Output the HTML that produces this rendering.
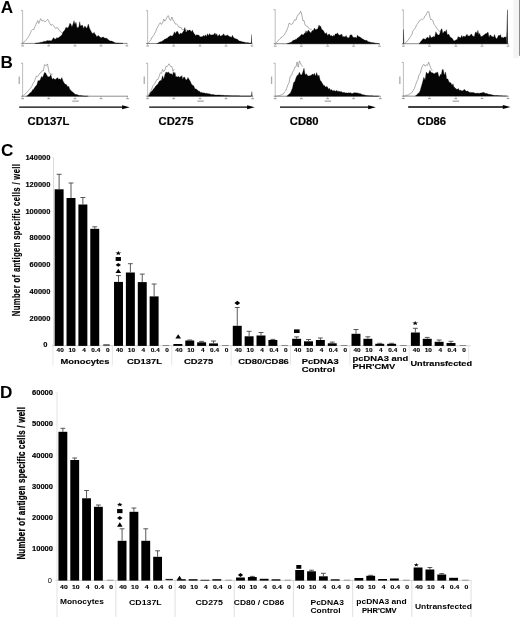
<!DOCTYPE html>
<html><head><meta charset="utf-8"><title>Figure</title>
<style>
html,body{margin:0;padding:0;background:#fff;}
body{width:520px;height:617px;overflow:hidden;font-family:"Liberation Sans",sans-serif;}
svg{display:block;filter:blur(0.5px);}
</style></head><body>
<svg width="520" height="617" viewBox="0 0 520 617" font-family="'Liberation Sans', sans-serif">
<rect width="520" height="617" fill="#fff"/>
<g transform="translate(-0.5,0.2)">
<path d="M23.10,10.40 L23.10,43.20" stroke="#9a9a9a" stroke-width="0.65" fill="none"/>
<path d="M21.60,43.20 L127.90,43.20" stroke="#5c5c5c" stroke-width="0.7" fill="none"/>
<path d="M21.50,10.40 L23.10,10.40" stroke="#888" stroke-width="0.7"/>
<path d="M23.10,43.20 L23.10,44.50" stroke="#777" stroke-width="0.6"/>
<rect x="21.80" y="45.10" width="2.6" height="1.1" fill="#9a9a9a"/>
<path d="M49.20,43.20 L49.20,44.50" stroke="#777" stroke-width="0.6"/>
<rect x="47.90" y="45.10" width="2.6" height="1.1" fill="#9a9a9a"/>
<path d="M75.50,43.20 L75.50,44.50" stroke="#777" stroke-width="0.6"/>
<rect x="74.20" y="45.10" width="2.6" height="1.1" fill="#9a9a9a"/>
<path d="M101.50,43.20 L101.50,44.50" stroke="#777" stroke-width="0.6"/>
<rect x="100.20" y="45.10" width="2.6" height="1.1" fill="#9a9a9a"/>
<path d="M127.40,43.20 L127.40,44.50" stroke="#777" stroke-width="0.6"/>
<rect x="126.10" y="45.10" width="2.6" height="1.1" fill="#9a9a9a"/>
<path d="M23.20,42.70 L24.65,41.56 L26.10,40.30 L27.55,38.59 L29.00,36.52 L30.40,33.91 L31.80,30.48 L33.00,29.32 L34.20,29.62 L35.35,26.53 L36.50,24.12 L38.20,20.42 L39.30,23.31 L41.10,18.44 L42.50,20.67 L44.00,20.07 L45.50,21.79 L46.80,20.53 L48.20,19.13 L49.70,22.14 L51.50,25.17 L52.60,24.15 L54.30,25.73 L56.10,28.25 L57.80,27.16 L59.50,29.84 L61.30,31.78 L63.00,32.81 L64.20,31.74 L66.00,29.15" fill="none" stroke="#7a7a7a" stroke-width="0.62" stroke-linejoin="round"/>
<path d="M35.30,43.20 L35.30,43.20 L36.27,43.05 L37.23,42.90 L38.20,42.75 L39.17,42.47 L40.13,42.45 L41.10,42.10 L42.23,41.96 L43.37,41.68 L44.50,40.98 L45.52,41.20 L46.55,40.97 L47.58,40.38 L48.60,40.43 L49.57,40.53 L50.53,40.21 L51.50,40.90 L52.43,40.05 L53.37,38.42 L54.30,37.50 L55.32,38.95 L56.35,38.74 L57.38,37.33 L58.40,37.96 L59.37,37.39 L60.33,36.31 L61.30,35.79 L62.45,34.59 L63.60,31.85 L65.30,30.05 L66.45,27.14 L67.60,27.70 L68.53,27.55 L69.47,25.82 L70.40,22.99 L71.43,24.15 L72.45,26.86 L73.47,24.07 L74.50,20.54 L75.50,24.27 L76.50,22.08 L77.50,27.62 L78.50,27.32 L79.35,26.71 L80.20,21.47 L81.05,25.82 L81.90,25.36 L83.05,24.98 L84.20,28.59 L85.08,26.03 L85.95,26.42 L86.83,28.08 L87.70,27.41 L88.85,23.87 L90.00,28.03 L91.15,30.37 L92.30,32.49 L93.45,33.43 L94.60,32.13 L95.47,33.80 L96.35,34.87 L97.22,36.57 L98.10,35.82 L98.95,35.24 L99.80,36.33 L100.65,36.75 L101.50,37.81 L102.65,37.03 L103.80,36.86 L105.00,37.81 L106.20,38.06 L107.33,37.97 L108.47,39.22 L109.60,39.99 L110.47,40.75 L111.35,40.85 L112.22,40.90 L113.10,41.31 L113.95,41.57 L114.80,42.19 L115.65,42.44 L116.50,42.70 L117.38,42.76 L118.25,42.83 L119.12,42.89 L120.00,42.95 L120.88,43.01 L121.75,43.08 L122.62,43.14 L123.50,43.20 L123.50,43.20 Z" fill="#050505" stroke="#050505" stroke-width="0.3" stroke-linejoin="round"/>
</g>
<g transform="translate(-0.5,0.3)">
<path d="M148.10,10.40 L148.10,43.20" stroke="#9a9a9a" stroke-width="0.65" fill="none"/>
<path d="M146.60,43.20 L252.90,43.20" stroke="#5c5c5c" stroke-width="0.7" fill="none"/>
<path d="M146.50,10.40 L148.10,10.40" stroke="#888" stroke-width="0.7"/>
<path d="M148.10,43.20 L148.10,44.50" stroke="#777" stroke-width="0.6"/>
<rect x="146.80" y="45.10" width="2.6" height="1.1" fill="#9a9a9a"/>
<path d="M174.20,43.20 L174.20,44.50" stroke="#777" stroke-width="0.6"/>
<rect x="172.90" y="45.10" width="2.6" height="1.1" fill="#9a9a9a"/>
<path d="M200.50,43.20 L200.50,44.50" stroke="#777" stroke-width="0.6"/>
<rect x="199.20" y="45.10" width="2.6" height="1.1" fill="#9a9a9a"/>
<path d="M226.50,43.20 L226.50,44.50" stroke="#777" stroke-width="0.6"/>
<rect x="225.20" y="45.10" width="2.6" height="1.1" fill="#9a9a9a"/>
<path d="M252.40,43.20 L252.40,44.50" stroke="#777" stroke-width="0.6"/>
<rect x="251.10" y="45.10" width="2.6" height="1.1" fill="#9a9a9a"/>
<path d="M148.80,42.70 L150.15,41.08 L151.50,39.28 L152.90,36.39 L154.30,35.16 L155.30,32.84 L156.30,31.10 L157.30,28.33 L158.47,25.98 L159.63,24.10 L160.80,22.30 L161.93,24.18 L163.07,22.73 L164.20,18.70 L165.35,20.89 L166.50,19.04 L167.65,16.36 L168.80,15.28 L170.00,18.89 L171.20,20.16 L172.35,16.67 L173.50,20.10 L174.65,21.03 L175.80,23.79 L176.95,23.53 L178.10,24.74 L179.25,26.86 L180.40,27.05 L181.55,26.88 L182.70,29.57 L183.85,29.40 L185.00,28.57 L186.00,30.71 L187.00,28.88" fill="none" stroke="#7a7a7a" stroke-width="0.62" stroke-linejoin="round"/>
<path d="M157.30,43.20 L157.30,43.20 L158.22,42.82 L159.14,42.47 L160.06,41.78 L160.98,41.47 L161.90,41.33 L162.78,40.80 L163.65,40.21 L164.53,39.40 L165.40,38.80 L166.25,38.69 L167.10,37.85 L167.95,37.84 L168.80,36.74 L169.68,36.09 L170.55,35.75 L171.43,35.20 L172.30,36.04 L173.18,35.57 L174.05,33.85 L174.93,31.43 L175.80,33.55 L176.93,31.38 L178.07,30.98 L179.20,33.38 L180.07,34.21 L180.95,32.73 L181.82,33.35 L182.70,32.97 L183.57,31.29 L184.45,30.76 L185.32,27.24 L186.20,31.38 L187.05,31.77 L187.90,29.63 L188.75,30.53 L189.60,29.80 L190.75,30.07 L191.90,31.66 L192.78,29.72 L193.65,31.74 L194.53,33.29 L195.40,34.26 L196.25,35.33 L197.10,34.39 L197.95,34.63 L198.80,34.82 L199.68,35.14 L200.55,36.75 L201.43,36.36 L202.30,36.47 L203.18,36.20 L204.05,35.08 L204.93,36.30 L205.80,34.49 L206.93,36.32 L208.07,33.34 L209.20,35.55 L210.12,33.26 L211.04,34.61 L211.96,34.71 L212.88,34.52 L213.80,34.67 L214.68,33.43 L215.55,32.61 L216.43,34.97 L217.30,33.37 L218.18,36.09 L219.05,35.18 L219.93,34.07 L220.80,35.98 L221.93,35.53 L223.07,34.94 L224.20,33.36 L225.07,35.32 L225.95,35.49 L226.82,35.35 L227.70,34.46 L228.57,35.41 L229.45,35.76 L230.32,36.77 L231.20,36.39 L232.05,37.12 L232.90,35.07 L233.75,36.79 L234.60,37.95 L235.47,37.84 L236.35,38.61 L237.22,38.75 L238.10,39.16 L238.95,39.89 L239.80,40.67 L240.65,40.76 L241.50,41.27 L242.44,41.19 L243.38,41.78 L244.32,41.79 L245.26,41.86 L246.20,42.29 L247.12,42.36 L248.04,42.28 L248.96,42.52 L249.88,42.62 L250.80,42.70 L251.60,42.53 L251.60,43.20 Z" fill="#050505" stroke="#050505" stroke-width="0.3" stroke-linejoin="round"/>
<path d="M251.5,43.2 L251.9,34.2 L252.3,34.2 L252.6,43.2 Z" fill="#333"/>
</g>
<g transform="translate(-0.2,0.5)">
<path d="M275.40,9.20 L275.40,43.20" stroke="#9a9a9a" stroke-width="0.65" fill="none"/>
<path d="M273.90,43.20 L380.20,43.20" stroke="#5c5c5c" stroke-width="0.7" fill="none"/>
<path d="M273.80,9.20 L275.40,9.20" stroke="#888" stroke-width="0.7"/>
<path d="M275.40,43.20 L275.40,44.50" stroke="#777" stroke-width="0.6"/>
<rect x="274.10" y="45.10" width="2.6" height="1.1" fill="#9a9a9a"/>
<path d="M301.50,43.20 L301.50,44.50" stroke="#777" stroke-width="0.6"/>
<rect x="300.20" y="45.10" width="2.6" height="1.1" fill="#9a9a9a"/>
<path d="M327.80,43.20 L327.80,44.50" stroke="#777" stroke-width="0.6"/>
<rect x="326.50" y="45.10" width="2.6" height="1.1" fill="#9a9a9a"/>
<path d="M353.80,43.20 L353.80,44.50" stroke="#777" stroke-width="0.6"/>
<rect x="352.50" y="45.10" width="2.6" height="1.1" fill="#9a9a9a"/>
<path d="M379.70,43.20 L379.70,44.50" stroke="#777" stroke-width="0.6"/>
<rect x="378.40" y="45.10" width="2.6" height="1.1" fill="#9a9a9a"/>
<path d="M276.10,42.70 L277.45,41.32 L278.80,39.64 L279.97,38.30 L281.13,37.16 L282.30,36.63 L283.47,35.22 L284.63,34.18 L285.80,32.24 L286.95,29.59 L288.10,27.20 L289.20,22.78 L290.35,23.40 L291.50,23.91 L292.65,23.32 L293.80,21.08 L295.00,19.14 L296.20,19.74 L297.30,16.06 L298.45,13.95 L299.60,13.50 L300.80,10.68 L301.90,13.51 L303.05,20.02 L304.20,19.97 L305.35,24.65 L306.50,25.50 L307.65,25.67 L308.80,27.74 L310.70,28.93 L312.00,28.71" fill="none" stroke="#7a7a7a" stroke-width="0.62" stroke-linejoin="round"/>
<path d="M286.90,43.20 L286.90,43.20 L287.82,42.90 L288.74,42.57 L289.66,42.34 L290.58,42.01 L291.50,41.77 L292.38,40.72 L293.25,40.03 L294.12,39.50 L295.00,39.44 L295.88,38.70 L296.75,38.65 L297.62,37.62 L298.50,37.01 L299.63,36.15 L300.77,35.10 L301.90,33.72 L302.77,34.30 L303.65,34.51 L304.52,32.77 L305.40,32.72 L306.25,30.21 L307.10,32.46 L307.95,30.25 L308.80,29.84 L309.68,30.95 L310.55,32.32 L311.43,31.89 L312.30,30.12 L313.45,30.29 L314.60,27.62 L315.75,29.16 L316.90,28.71 L318.05,28.14 L319.20,24.45 L320.07,26.05 L320.95,25.78 L321.82,28.83 L322.70,29.29 L323.85,30.60 L325.00,32.80 L325.88,33.22 L326.75,32.15 L327.62,34.88 L328.50,34.03 L329.63,33.55 L330.77,35.42 L331.90,35.11 L332.77,35.95 L333.65,34.71 L334.52,35.66 L335.40,33.46 L336.55,33.45 L337.70,32.39 L338.57,33.63 L339.45,34.90 L340.32,34.31 L341.20,34.57 L342.05,33.41 L342.90,36.42 L343.75,35.95 L344.60,36.36 L345.48,36.14 L346.35,34.91 L347.23,37.30 L348.10,37.09 L349.23,37.45 L350.37,34.48 L351.50,34.37 L352.38,34.92 L353.25,37.10 L354.12,36.84 L355.00,37.07 L355.88,36.83 L356.75,37.63 L357.62,34.61 L358.50,36.10 L359.63,36.29 L360.77,36.93 L361.90,37.75 L362.77,38.55 L363.65,38.75 L364.52,39.41 L365.40,39.79 L366.25,40.12 L367.10,39.77 L367.95,41.10 L368.80,41.29 L369.74,41.57 L370.68,41.65 L371.62,41.90 L372.56,42.11 L373.50,42.29 L374.45,42.27 L375.40,42.66 L376.35,42.75 L377.30,42.90 L378.25,43.05 L379.20,43.20 L379.20,43.20 Z" fill="#050505" stroke="#050505" stroke-width="0.3" stroke-linejoin="round"/>
</g>
<g transform="translate(0.0,0.4)">
<path d="M403.40,9.60 L403.40,43.30" stroke="#9a9a9a" stroke-width="0.65" fill="none"/>
<path d="M401.90,43.30 L508.50,43.30" stroke="#5c5c5c" stroke-width="0.7" fill="none"/>
<path d="M401.80,9.60 L403.40,9.60" stroke="#888" stroke-width="0.7"/>
<path d="M403.40,43.30 L403.40,44.60" stroke="#777" stroke-width="0.6"/>
<rect x="402.10" y="45.20" width="2.6" height="1.1" fill="#9a9a9a"/>
<path d="M429.40,43.30 L429.40,44.60" stroke="#777" stroke-width="0.6"/>
<rect x="428.10" y="45.20" width="2.6" height="1.1" fill="#9a9a9a"/>
<path d="M455.80,43.30 L455.80,44.60" stroke="#777" stroke-width="0.6"/>
<rect x="454.50" y="45.20" width="2.6" height="1.1" fill="#9a9a9a"/>
<path d="M482.00,43.30 L482.00,44.60" stroke="#777" stroke-width="0.6"/>
<rect x="480.70" y="45.20" width="2.6" height="1.1" fill="#9a9a9a"/>
<path d="M508.00,43.30 L508.00,44.60" stroke="#777" stroke-width="0.6"/>
<rect x="506.70" y="45.20" width="2.6" height="1.1" fill="#9a9a9a"/>
<path d="M403.2,43.3 L403.4,29 L403.9,29 L404.2,43.3 Z" fill="#222"/>
<path d="M404.60,43.30 L405.80,41.98 L407.00,40.84 L408.20,39.86 L409.40,37.65 L410.60,36.16 L411.80,34.31 L413.00,30.37 L414.20,28.91 L415.40,27.50 L416.60,24.36 L417.80,23.23 L419.00,20.79 L420.20,19.88 L421.40,18.76 L422.60,19.32 L423.80,18.08 L424.80,15.67 L425.80,14.99 L427.50,11.28 L428.70,11.24 L430.60,19.18 L431.80,19.08 L433.00,20.61 L434.20,24.41 L435.40,25.59 L436.60,27.56 L437.80,29.10 L439.50,31.07 L441.00,31.74" fill="none" stroke="#7a7a7a" stroke-width="0.62" stroke-linejoin="round"/>
<path d="M419.00,43.30 L419.00,43.30 L419.90,42.41 L420.80,41.03 L421.70,40.03 L422.60,38.89 L423.53,38.18 L424.45,38.57 L425.38,39.15 L426.30,37.93 L427.20,36.91 L428.10,37.10 L429.00,38.09 L429.90,34.48 L430.80,36.85 L431.70,37.37 L432.60,36.64 L433.50,36.07 L434.70,36.49 L435.90,31.33 L437.10,33.84 L438.30,34.71 L439.20,34.49 L440.10,32.40 L441.00,29.06 L441.90,28.39 L442.80,33.08 L443.70,31.87 L444.60,30.51 L445.50,31.54 L446.40,29.21 L447.30,34.63 L448.20,33.71 L449.10,34.33 L450.30,36.84 L451.50,37.28 L452.70,38.60 L453.90,40.70 L455.10,40.06 L456.30,39.38 L457.20,39.22 L458.10,36.02 L459.00,37.10 L459.90,36.83 L460.80,37.59 L461.70,34.94 L462.60,37.16 L463.50,35.67 L464.40,36.13 L465.30,36.41 L466.20,34.83 L467.10,33.75 L468.00,35.90 L468.90,35.37 L469.80,35.69 L470.70,34.20 L471.60,33.61 L472.50,35.67 L473.40,35.88 L474.30,36.30 L475.20,32.25 L476.10,31.36 L477.00,33.46 L477.90,29.95 L478.80,34.46 L479.70,32.93 L480.60,35.81 L481.50,36.00 L482.46,35.73 L483.42,34.94 L484.38,34.44 L485.34,33.26 L486.30,33.44 L487.23,32.22 L488.15,32.04 L489.07,37.14 L490.00,34.64 L490.90,34.85 L491.80,36.14 L492.70,36.41 L493.60,36.74 L494.50,34.09 L495.40,36.82 L496.30,38.29 L497.20,37.89 L498.40,35.15 L499.60,35.12 L500.50,34.21 L501.40,37.37 L502.30,36.79 L503.20,37.67 L504.17,36.72 L505.13,36.89 L506.10,36.43 L506.10,43.30 Z" fill="#050505" stroke="#050505" stroke-width="0.3" stroke-linejoin="round"/>
<path d="M506.0,43.3 L506.7,30 L507.05,9.3 L507.6,9.3 L507.9,43.3 Z" fill="#181818"/>
</g>
<rect x="518.9" y="0" width="1.1" height="55.8" fill="#8c8c8c"/>
<rect x="513.4" y="0" width="5.5" height="58" fill="#f4f4f4"/>
<g transform="translate(-0.5,0.1)">
<path d="M23.10,63.10 L23.10,96.10" stroke="#9a9a9a" stroke-width="0.65" fill="none"/>
<path d="M21.60,96.10 L128.50,96.10" stroke="#5c5c5c" stroke-width="0.7" fill="none"/>
<path d="M21.50,63.10 L23.10,63.10" stroke="#888" stroke-width="0.7"/>
<path d="M23.10,96.10 L23.10,97.40" stroke="#777" stroke-width="0.6"/>
<rect x="21.80" y="98.00" width="2.6" height="1.1" fill="#9a9a9a"/>
<path d="M49.20,96.10 L49.20,97.40" stroke="#777" stroke-width="0.6"/>
<rect x="47.90" y="98.00" width="2.6" height="1.1" fill="#9a9a9a"/>
<path d="M75.50,96.10 L75.50,97.40" stroke="#777" stroke-width="0.6"/>
<rect x="74.20" y="98.00" width="2.6" height="1.1" fill="#9a9a9a"/>
<path d="M101.50,96.10 L101.50,97.40" stroke="#777" stroke-width="0.6"/>
<rect x="100.20" y="98.00" width="2.6" height="1.1" fill="#9a9a9a"/>
<path d="M128.00,96.10 L128.00,97.40" stroke="#777" stroke-width="0.6"/>
<rect x="126.70" y="98.00" width="2.6" height="1.1" fill="#9a9a9a"/>
<path d="M23.80,95.42 L25.15,94.28 L26.50,93.18 L27.67,91.89 L28.83,90.63 L30.00,89.08 L31.17,87.76 L32.33,86.17 L33.50,83.56 L34.65,81.71 L35.80,79.19 L36.95,75.89 L38.10,76.53 L39.25,74.81 L40.40,72.99 L41.55,72.47 L42.70,70.55 L43.85,70.77 L45.00,64.50 L46.80,65.66 L48.00,63.83 L49.60,72.51 L51.50,73.98 L53.10,74.01" fill="none" stroke="#7a7a7a" stroke-width="0.62" stroke-linejoin="round"/>
<path d="M27.00,96.10 L27.00,96.10 L27.88,95.41 L28.75,94.63 L29.62,93.83 L30.50,92.70 L31.38,92.35 L32.25,91.51 L33.12,89.58 L34.00,89.29 L35.13,87.47 L36.27,85.96 L37.40,84.71 L38.55,80.46 L39.70,80.97 L40.85,79.29 L42.00,76.37 L42.90,77.49 L43.80,75.58 L45.00,72.39 L46.20,72.79 L47.33,75.22 L48.47,76.54 L49.60,76.82 L50.48,76.17 L51.35,74.32 L52.23,78.00 L53.10,79.16 L54.23,78.25 L55.37,79.43 L56.50,79.15 L57.38,77.96 L58.25,77.61 L59.12,79.50 L60.00,78.75 L61.15,79.77 L62.30,77.52 L63.45,80.71 L64.60,82.91 L65.75,84.04 L66.90,84.44 L68.05,86.64 L69.20,86.15 L70.35,89.34 L71.50,90.38 L72.65,91.67 L73.80,92.41 L75.00,93.66 L76.20,94.29 L77.33,94.48 L78.47,94.82 L79.60,95.36 L80.52,95.42 L81.44,95.50 L82.36,95.60 L83.28,95.70 L84.20,95.80 L85.12,95.86 L86.04,95.92 L86.96,95.98 L87.88,96.04 L88.80,96.10 L88.80,96.10 Z" fill="#050505" stroke="#050505" stroke-width="0.3" stroke-linejoin="round"/>
</g>
<g transform="translate(-0.5,0.1)">
<path d="M148.10,63.10 L148.10,96.10" stroke="#9a9a9a" stroke-width="0.65" fill="none"/>
<path d="M146.60,96.10 L253.60,96.10" stroke="#5c5c5c" stroke-width="0.7" fill="none"/>
<path d="M146.50,63.10 L148.10,63.10" stroke="#888" stroke-width="0.7"/>
<path d="M148.10,96.10 L148.10,97.40" stroke="#777" stroke-width="0.6"/>
<rect x="146.80" y="98.00" width="2.6" height="1.1" fill="#9a9a9a"/>
<path d="M174.20,96.10 L174.20,97.40" stroke="#777" stroke-width="0.6"/>
<rect x="172.90" y="98.00" width="2.6" height="1.1" fill="#9a9a9a"/>
<path d="M200.50,96.10 L200.50,97.40" stroke="#777" stroke-width="0.6"/>
<rect x="199.20" y="98.00" width="2.6" height="1.1" fill="#9a9a9a"/>
<path d="M226.50,96.10 L226.50,97.40" stroke="#777" stroke-width="0.6"/>
<rect x="225.20" y="98.00" width="2.6" height="1.1" fill="#9a9a9a"/>
<path d="M253.10,96.10 L253.10,97.40" stroke="#777" stroke-width="0.6"/>
<rect x="251.80" y="98.00" width="2.6" height="1.1" fill="#9a9a9a"/>
<path d="M148.80,95.44 L149.95,93.25 L151.10,91.11 L152.25,88.94 L153.40,85.43 L154.80,84.32 L156.20,81.65 L157.35,79.41 L158.50,79.33 L159.65,76.18 L160.80,72.74 L161.95,73.15 L163.10,69.26 L164.25,71.49 L165.40,69.78 L166.55,66.21 L167.70,66.47 L169.50,63.64 L171.20,66.46 L172.35,66.34 L173.50,71.34 L174.60,69.13" fill="none" stroke="#7a7a7a" stroke-width="0.62" stroke-linejoin="round"/>
<path d="M148.80,96.10 L148.80,96.10 L149.70,94.83 L150.60,93.17 L151.50,91.65 L152.38,91.26 L153.25,90.00 L154.12,88.67 L155.00,87.85 L156.15,85.95 L157.30,84.88 L158.45,83.99 L159.60,81.35 L160.75,80.52 L161.90,80.49 L163.05,75.66 L164.20,79.12 L165.35,74.56 L166.50,71.89 L167.65,72.69 L168.80,71.93 L170.00,73.09 L171.20,73.80 L172.05,73.73 L172.90,75.29 L173.75,71.97 L174.60,73.67 L175.47,72.19 L176.35,76.93 L177.22,76.31 L178.10,76.85 L178.95,76.25 L179.80,77.29 L180.65,76.38 L181.50,77.00 L182.38,75.41 L183.25,79.52 L184.12,77.17 L185.00,76.94 L186.15,79.33 L187.30,79.78 L188.45,77.45 L189.60,79.47 L190.75,81.12 L191.90,83.88 L193.05,85.17 L194.20,85.64 L195.35,88.63 L196.50,88.89 L197.38,89.28 L198.25,90.16 L199.12,91.18 L200.00,91.03 L200.88,92.31 L201.75,92.14 L202.62,92.56 L203.50,92.61 L204.35,92.92 L205.20,92.79 L206.05,93.31 L206.90,93.20 L207.82,93.38 L208.74,93.72 L209.66,93.64 L210.58,93.88 L211.50,94.40 L212.44,94.49 L213.38,94.52 L214.32,94.52 L215.26,94.81 L216.20,94.94 L217.06,94.92 L217.92,94.95 L218.79,94.98 L219.65,94.93 L220.51,94.95 L221.38,95.04 L222.24,95.09 L223.10,95.25 L224.02,95.22 L224.94,95.29 L225.86,95.39 L226.78,95.42 L227.70,95.40 L228.62,95.47 L229.54,95.54 L230.46,95.52 L231.38,95.56 L232.30,95.60 L233.22,95.62 L234.14,95.64 L235.06,95.66 L235.98,95.68 L236.90,95.70 L237.82,95.72 L238.74,95.74 L239.66,95.76 L240.58,95.78 L241.50,95.80 L242.43,95.80 L243.36,95.80 L244.29,95.80 L245.22,95.80 L246.15,95.80 L247.08,95.80 L248.01,95.80 L248.94,95.80 L249.87,95.80 L250.80,95.80 L251.50,95.80 L251.50,96.10 Z" fill="#050505" stroke="#050505" stroke-width="0.3" stroke-linejoin="round"/>
<path d="M251.7,96.1 L252.1,91.5 L252.6,91.5 L252.9,96.1 Z" fill="#222"/>
</g>
<g transform="translate(-0.2,0.1)">
<path d="M275.40,63.10 L275.40,96.10" stroke="#9a9a9a" stroke-width="0.65" fill="none"/>
<path d="M273.90,96.10 L380.90,96.10" stroke="#5c5c5c" stroke-width="0.7" fill="none"/>
<path d="M273.80,63.10 L275.40,63.10" stroke="#888" stroke-width="0.7"/>
<path d="M275.40,96.10 L275.40,97.40" stroke="#777" stroke-width="0.6"/>
<rect x="274.10" y="98.00" width="2.6" height="1.1" fill="#9a9a9a"/>
<path d="M301.50,96.10 L301.50,97.40" stroke="#777" stroke-width="0.6"/>
<rect x="300.20" y="98.00" width="2.6" height="1.1" fill="#9a9a9a"/>
<path d="M327.80,96.10 L327.80,97.40" stroke="#777" stroke-width="0.6"/>
<rect x="326.50" y="98.00" width="2.6" height="1.1" fill="#9a9a9a"/>
<path d="M353.80,96.10 L353.80,97.40" stroke="#777" stroke-width="0.6"/>
<rect x="352.50" y="98.00" width="2.6" height="1.1" fill="#9a9a9a"/>
<path d="M380.40,96.10 L380.40,97.40" stroke="#777" stroke-width="0.6"/>
<rect x="379.10" y="98.00" width="2.6" height="1.1" fill="#9a9a9a"/>
<path d="M276.10,96.10 L277.40,95.87 L278.70,95.63 L280.00,95.39 L281.17,94.88 L282.33,94.31 L283.50,93.85 L284.65,91.99 L285.80,90.87 L286.95,87.98 L288.10,84.74 L289.25,82.61 L290.40,76.16 L291.55,75.59 L292.70,72.23 L293.85,70.40 L295.00,67.13 L296.15,66.85 L297.30,61.86 L298.45,67.07 L299.60,60.77 L301.50,64.72 L303.10,66.57" fill="none" stroke="#7a7a7a" stroke-width="0.62" stroke-linejoin="round"/>
<path d="M286.90,96.10 L286.90,96.10 L287.77,95.39 L288.65,94.73 L289.52,93.66 L290.40,93.50 L291.55,90.69 L292.70,87.81 L293.85,82.50 L295.00,81.70 L296.15,78.01 L297.30,75.34 L298.45,74.86 L299.60,72.13 L300.75,74.64 L301.90,74.87 L303.05,71.95 L304.20,68.08 L305.35,74.88 L306.50,73.61 L307.65,75.41 L308.80,75.99 L310.00,75.65 L311.20,75.43 L312.05,74.42 L312.90,73.85 L313.75,74.99 L314.60,73.07 L315.75,76.05 L316.90,72.42 L318.05,76.37 L319.20,74.89 L320.35,80.18 L321.50,81.52 L322.65,83.32 L323.80,85.38 L324.68,85.40 L325.55,86.86 L326.43,86.57 L327.30,86.36 L328.18,88.00 L329.05,89.09 L329.93,88.26 L330.80,90.44 L331.93,89.45 L333.07,91.06 L334.20,90.13 L335.12,90.90 L336.04,91.11 L336.96,90.16 L337.88,91.37 L338.80,91.06 L339.74,91.44 L340.68,91.71 L341.62,91.42 L342.56,92.40 L343.50,92.50 L344.42,92.18 L345.34,92.95 L346.26,92.74 L347.18,92.97 L348.10,92.89 L349.02,92.77 L349.94,92.90 L350.86,92.67 L351.78,93.30 L352.70,93.49 L353.62,92.83 L354.54,92.58 L355.46,92.57 L356.38,93.02 L357.30,92.69 L358.22,93.09 L359.14,93.38 L360.06,93.28 L360.98,93.71 L361.90,94.26 L362.82,94.66 L363.74,94.53 L364.66,94.82 L365.58,95.16 L366.50,95.37 L367.38,95.49 L368.25,95.50 L369.12,95.55 L370.00,95.60 L370.88,95.65 L371.75,95.70 L372.62,95.75 L373.50,95.80 L374.45,95.85 L375.40,95.90 L376.35,95.95 L377.30,96.00 L378.25,96.05 L379.20,96.10 L379.20,96.10 Z" fill="#050505" stroke="#050505" stroke-width="0.3" stroke-linejoin="round"/>
</g>
<g transform="translate(0.0,0.2)">
<path d="M403.40,62.20 L403.40,95.90" stroke="#9a9a9a" stroke-width="0.65" fill="none"/>
<path d="M401.90,95.90 L508.50,95.90" stroke="#5c5c5c" stroke-width="0.7" fill="none"/>
<path d="M401.80,62.20 L403.40,62.20" stroke="#888" stroke-width="0.7"/>
<path d="M403.40,95.90 L403.40,97.20" stroke="#777" stroke-width="0.6"/>
<rect x="402.10" y="97.80" width="2.6" height="1.1" fill="#9a9a9a"/>
<path d="M429.40,95.90 L429.40,97.20" stroke="#777" stroke-width="0.6"/>
<rect x="428.10" y="97.80" width="2.6" height="1.1" fill="#9a9a9a"/>
<path d="M455.80,95.90 L455.80,97.20" stroke="#777" stroke-width="0.6"/>
<rect x="454.50" y="97.80" width="2.6" height="1.1" fill="#9a9a9a"/>
<path d="M482.00,95.90 L482.00,97.20" stroke="#777" stroke-width="0.6"/>
<rect x="480.70" y="97.80" width="2.6" height="1.1" fill="#9a9a9a"/>
<path d="M508.00,95.90 L508.00,97.20" stroke="#777" stroke-width="0.6"/>
<rect x="506.70" y="97.80" width="2.6" height="1.1" fill="#9a9a9a"/>
<path d="M404.10,95.90 L405.12,95.60 L406.15,95.30 L407.18,94.91 L408.20,94.75 L409.40,94.01 L410.60,93.24 L411.80,92.45 L413.00,90.55 L414.20,88.59 L415.40,85.41 L416.60,81.62 L417.80,79.53 L419.00,74.68 L420.20,73.20 L421.40,68.65 L422.60,65.62 L423.80,64.04 L425.05,65.90 L426.30,64.57 L427.50,65.17 L428.70,61.85 L430.60,67.54 L432.30,70.42" fill="none" stroke="#7a7a7a" stroke-width="0.62" stroke-linejoin="round"/>
<path d="M415.40,95.90 L415.40,95.90 L416.30,94.99 L417.20,94.29 L418.10,93.10 L419.00,92.81 L420.20,90.37 L421.40,85.94 L422.60,82.06 L423.80,77.16 L425.05,79.69 L426.30,71.89 L427.50,73.67 L428.70,73.03 L429.90,70.00 L431.10,72.22 L432.30,72.45 L433.50,73.21 L434.70,73.45 L435.90,72.22 L436.80,72.45 L437.70,71.86 L438.60,75.48 L439.50,76.74 L440.40,74.06 L441.30,74.57 L442.20,69.71 L443.10,69.06 L444.30,75.09 L445.50,71.75 L446.70,78.71 L447.90,78.84 L449.10,82.02 L450.30,82.18 L451.20,83.28 L452.10,85.30 L453.00,83.49 L453.90,86.91 L454.80,87.32 L455.70,88.34 L456.60,89.08 L457.50,89.00 L458.40,88.33 L459.30,90.38 L460.20,89.84 L461.10,90.39 L462.00,90.81 L462.90,90.48 L463.80,89.50 L464.70,89.27 L465.60,90.50 L466.50,91.16 L467.40,90.84 L468.30,91.34 L469.26,91.94 L470.22,92.18 L471.18,92.35 L472.14,92.25 L473.10,92.39 L474.06,92.58 L475.02,92.97 L475.98,93.17 L476.94,93.08 L477.90,92.83 L478.76,93.30 L479.61,93.04 L480.47,92.81 L481.33,92.92 L482.19,92.36 L483.04,92.61 L483.90,91.95 L484.88,93.04 L485.86,93.31 L486.84,93.07 L487.82,93.81 L488.80,94.05 L489.76,94.01 L490.72,94.33 L491.68,94.57 L492.64,94.79 L493.60,95.17 L494.50,95.23 L495.40,95.24 L496.30,95.34 L497.20,95.35 L498.10,95.41 L499.00,95.47 L499.90,95.54 L500.80,95.60 L501.66,95.64 L502.51,95.69 L503.37,95.73 L504.23,95.77 L505.09,95.81 L505.94,95.86 L506.80,95.90 L506.80,95.90 Z" fill="#050505" stroke="#050505" stroke-width="0.3" stroke-linejoin="round"/>
</g>
<rect x="72.30" y="100.5" width="6.5" height="1.3" fill="#a8a8a8"/>
<rect x="197.30" y="100.5" width="6.5" height="1.3" fill="#a8a8a8"/>
<rect x="324.60" y="100.5" width="6.5" height="1.3" fill="#a8a8a8"/>
<rect x="452.60" y="100.5" width="6.5" height="1.3" fill="#a8a8a8"/>
<rect x="18.60" y="76.5" width="1.3" height="7.5" fill="#ababab"/>
<rect x="143.60" y="76.5" width="1.3" height="7.5" fill="#ababab"/>
<rect x="270.90" y="76.5" width="1.3" height="7.5" fill="#ababab"/>
<rect x="399.20" y="76.5" width="1.3" height="7.5" fill="#ababab"/>
<path d="M19.20,107.20 L124.70,107.20" stroke="#000" stroke-width="1.3"/>
<path d="M122.10,105.20 L129.70,107.20 L122.10,109.20 Z" fill="#000"/>
<path d="M149.20,107.20 L249.70,107.20" stroke="#000" stroke-width="1.3"/>
<path d="M247.10,105.20 L254.70,107.20 L247.10,109.20 Z" fill="#000"/>
<path d="M280.00,107.20 L370.80,107.20" stroke="#000" stroke-width="1.3"/>
<path d="M368.20,105.20 L375.80,107.20 L368.20,109.20 Z" fill="#000"/>
<path d="M408.20,107.00 L505.40,107.00" stroke="#000" stroke-width="1.3"/>
<path d="M502.80,105.00 L510.40,107.00 L502.80,109.00 Z" fill="#000"/>
<text transform="translate(27.60,124.90) scale(1.050,1)" font-size="10.70" font-weight="bold" text-anchor="start" fill="#000" stroke="#000" stroke-width="0.2">CD137L</text>
<text transform="translate(158.60,124.90) scale(1.050,1)" font-size="10.70" font-weight="bold" text-anchor="start" fill="#000" stroke="#000" stroke-width="0.2">CD275</text>
<text transform="translate(289.80,124.90) scale(1.050,1)" font-size="10.70" font-weight="bold" text-anchor="start" fill="#000" stroke="#000" stroke-width="0.2">CD80</text>
<text transform="translate(417.30,124.90) scale(1.050,1)" font-size="10.70" font-weight="bold" text-anchor="start" fill="#000" stroke="#000" stroke-width="0.2">CD86</text>
<text transform="translate(0.70,12.90) scale(1.060,1)" font-size="16.20" font-weight="bold" text-anchor="start" fill="#000" >A</text>
<text transform="translate(0.60,67.70) scale(1.060,1)" font-size="16.20" font-weight="bold" text-anchor="start" fill="#000" >B</text>
<text transform="translate(1.00,155.60) scale(1.060,1)" font-size="16.20" font-weight="bold" text-anchor="start" fill="#000" >C</text>
<text transform="translate(0.00,398.00) scale(1.060,1)" font-size="16.20" font-weight="bold" text-anchor="start" fill="#000" >D</text>
<path d="M53.50,157.5 L53.50,345.70" stroke="#d2d2d2" stroke-width="0.8"/>
<path d="M52.00,345.70 L470.5,345.70" stroke="#c4c4c4" stroke-width="0.7"/>
<text transform="translate(47.50,347.40) scale(1.170,1)" font-size="6.40" font-weight="bold" text-anchor="end" fill="#000" stroke="#000" stroke-width="0.15">0</text>
<path d="M52.00,345.10 L53.50,345.10" stroke="#e2e2e2" stroke-width="0.6"/>
<text transform="translate(50.40,320.63) scale(1.170,1)" font-size="6.40" font-weight="bold" text-anchor="end" fill="#000" stroke="#000" stroke-width="0.15">20000</text>
<path d="M52.00,318.33 L53.50,318.33" stroke="#e2e2e2" stroke-width="0.6"/>
<text transform="translate(50.40,293.86) scale(1.170,1)" font-size="6.40" font-weight="bold" text-anchor="end" fill="#000" stroke="#000" stroke-width="0.15">40000</text>
<path d="M52.00,291.56 L53.50,291.56" stroke="#e2e2e2" stroke-width="0.6"/>
<text transform="translate(50.40,267.09) scale(1.170,1)" font-size="6.40" font-weight="bold" text-anchor="end" fill="#000" stroke="#000" stroke-width="0.15">60000</text>
<path d="M52.00,264.79 L53.50,264.79" stroke="#e2e2e2" stroke-width="0.6"/>
<text transform="translate(50.40,240.32) scale(1.170,1)" font-size="6.40" font-weight="bold" text-anchor="end" fill="#000" stroke="#000" stroke-width="0.15">80000</text>
<path d="M52.00,238.02 L53.50,238.02" stroke="#e2e2e2" stroke-width="0.6"/>
<text transform="translate(50.40,213.55) scale(1.170,1)" font-size="6.40" font-weight="bold" text-anchor="end" fill="#000" stroke="#000" stroke-width="0.15">100000</text>
<path d="M52.00,211.25 L53.50,211.25" stroke="#e2e2e2" stroke-width="0.6"/>
<text transform="translate(50.40,186.78) scale(1.170,1)" font-size="6.40" font-weight="bold" text-anchor="end" fill="#000" stroke="#000" stroke-width="0.15">120000</text>
<path d="M52.00,184.48 L53.50,184.48" stroke="#e2e2e2" stroke-width="0.6"/>
<text transform="translate(50.40,160.01) scale(1.170,1)" font-size="6.40" font-weight="bold" text-anchor="end" fill="#000" stroke="#000" stroke-width="0.15">140000</text>
<path d="M52.00,157.71 L53.50,157.71" stroke="#e2e2e2" stroke-width="0.6"/>
<text transform="translate(20.30,240.00) rotate(-90) scale(0.678,1)" font-size="11.50" font-weight="bold" text-anchor="middle" fill="#000" letter-spacing="0.45" stroke="#000" stroke-width="0.15" stroke-linejoin="round">Number of antigen specific cells / well</text>
<rect x="54.65" y="189.30" width="8.95" height="156.60" fill="#000"/>
<path d="M59.12,189.30 L59.12,174.30 M56.67,174.30 L61.58,174.30" stroke="#464646" stroke-width="0.9" fill="none"/>
<rect x="66.53" y="198.00" width="8.95" height="147.90" fill="#000"/>
<path d="M71.00,198.00 L71.00,183.00 M68.55,183.00 L73.45,183.00" stroke="#464646" stroke-width="0.9" fill="none"/>
<rect x="78.40" y="204.50" width="8.95" height="141.40" fill="#000"/>
<path d="M82.88,204.50 L82.88,197.50 M80.42,197.50 L85.33,197.50" stroke="#464646" stroke-width="0.9" fill="none"/>
<rect x="90.28" y="228.80" width="8.95" height="117.10" fill="#000"/>
<path d="M94.75,228.80 L94.75,226.80 M92.30,226.80 L97.20,226.80" stroke="#464646" stroke-width="0.9" fill="none"/>
<rect x="103.35" y="345.00" width="6.55" height="0.70" fill="#666"/>
<rect x="114.03" y="281.90" width="8.95" height="64.00" fill="#000"/>
<path d="M118.50,281.90 L118.50,275.60 M116.05,275.60 L120.95,275.60" stroke="#464646" stroke-width="0.9" fill="none"/>
<rect x="125.90" y="272.50" width="8.95" height="73.40" fill="#000"/>
<path d="M130.38,272.50 L130.38,263.70 M127.92,263.70 L132.82,263.70" stroke="#464646" stroke-width="0.9" fill="none"/>
<rect x="137.78" y="282.10" width="8.95" height="63.80" fill="#000"/>
<path d="M142.25,282.10 L142.25,274.10 M139.80,274.10 L144.70,274.10" stroke="#464646" stroke-width="0.9" fill="none"/>
<rect x="149.65" y="296.40" width="8.95" height="49.50" fill="#000"/>
<path d="M154.12,296.40 L154.12,284.00 M151.68,284.00 L156.57,284.00" stroke="#464646" stroke-width="0.9" fill="none"/>
<rect x="162.72" y="345.00" width="6.55" height="0.70" fill="#666"/>
<rect x="173.40" y="344.00" width="8.95" height="1.90" fill="#000"/>
<rect x="185.28" y="340.50" width="8.95" height="5.40" fill="#000"/>
<path d="M189.75,340.50 L189.75,340.00 M187.30,340.00 L192.20,340.00" stroke="#464646" stroke-width="0.9" fill="none"/>
<rect x="197.15" y="342.30" width="8.95" height="3.60" fill="#000"/>
<path d="M201.62,342.30 L201.62,341.40 M199.18,341.40 L204.07,341.40" stroke="#464646" stroke-width="0.9" fill="none"/>
<rect x="209.03" y="343.40" width="8.95" height="2.50" fill="#000"/>
<path d="M213.50,343.40 L213.50,341.00 M211.05,341.00 L215.95,341.00" stroke="#464646" stroke-width="0.9" fill="none"/>
<rect x="222.10" y="345.00" width="6.55" height="0.70" fill="#666"/>
<rect x="232.78" y="325.80" width="8.95" height="20.10" fill="#000"/>
<path d="M237.25,325.80 L237.25,307.50 M234.80,307.50 L239.70,307.50" stroke="#464646" stroke-width="0.9" fill="none"/>
<rect x="244.65" y="336.30" width="8.95" height="9.60" fill="#000"/>
<path d="M249.12,336.30 L249.12,331.30 M246.68,331.30 L251.57,331.30" stroke="#464646" stroke-width="0.9" fill="none"/>
<rect x="256.52" y="335.50" width="8.95" height="10.40" fill="#000"/>
<path d="M261.00,335.50 L261.00,332.50 M258.55,332.50 L263.45,332.50" stroke="#464646" stroke-width="0.9" fill="none"/>
<rect x="268.40" y="340.00" width="8.95" height="5.90" fill="#000"/>
<path d="M272.88,340.00 L272.88,339.40 M270.43,339.40 L275.32,339.40" stroke="#464646" stroke-width="0.9" fill="none"/>
<rect x="281.47" y="345.00" width="6.55" height="0.70" fill="#666"/>
<rect x="292.15" y="338.80" width="8.95" height="7.10" fill="#000"/>
<path d="M296.62,338.80 L296.62,336.90 M294.18,336.90 L299.07,336.90" stroke="#464646" stroke-width="0.9" fill="none"/>
<rect x="304.02" y="341.30" width="8.95" height="4.60" fill="#000"/>
<path d="M308.50,341.30 L308.50,339.50 M306.05,339.50 L310.95,339.50" stroke="#464646" stroke-width="0.9" fill="none"/>
<rect x="315.90" y="340.00" width="8.95" height="5.90" fill="#000"/>
<path d="M320.38,340.00 L320.38,338.00 M317.93,338.00 L322.82,338.00" stroke="#464646" stroke-width="0.9" fill="none"/>
<rect x="327.77" y="343.30" width="8.95" height="2.60" fill="#000"/>
<path d="M332.25,343.30 L332.25,342.10 M329.80,342.10 L334.70,342.10" stroke="#464646" stroke-width="0.9" fill="none"/>
<rect x="340.85" y="345.00" width="6.55" height="0.70" fill="#666"/>
<rect x="351.52" y="333.80" width="8.95" height="12.10" fill="#000"/>
<path d="M356.00,333.80 L356.00,329.50 M353.55,329.50 L358.45,329.50" stroke="#464646" stroke-width="0.9" fill="none"/>
<rect x="363.40" y="338.80" width="8.95" height="7.10" fill="#000"/>
<path d="M367.88,338.80 L367.88,336.80 M365.43,336.80 L370.32,336.80" stroke="#464646" stroke-width="0.9" fill="none"/>
<rect x="375.27" y="343.80" width="8.95" height="2.10" fill="#000"/>
<path d="M379.75,343.80 L379.75,343.30 M377.30,343.30 L382.20,343.30" stroke="#464646" stroke-width="0.9" fill="none"/>
<rect x="387.15" y="343.80" width="8.95" height="2.10" fill="#000"/>
<path d="M391.62,343.80 L391.62,343.30 M389.18,343.30 L394.07,343.30" stroke="#464646" stroke-width="0.9" fill="none"/>
<rect x="400.22" y="345.00" width="6.55" height="0.70" fill="#666"/>
<rect x="410.90" y="332.50" width="8.95" height="13.40" fill="#000"/>
<path d="M415.38,332.50 L415.38,328.30 M412.93,328.30 L417.82,328.30" stroke="#464646" stroke-width="0.9" fill="none"/>
<rect x="422.77" y="338.80" width="8.95" height="7.10" fill="#000"/>
<path d="M427.25,338.80 L427.25,337.40 M424.80,337.40 L429.70,337.40" stroke="#464646" stroke-width="0.9" fill="none"/>
<rect x="434.65" y="341.80" width="8.95" height="4.10" fill="#000"/>
<path d="M439.12,341.80 L439.12,340.00 M436.68,340.00 L441.57,340.00" stroke="#464646" stroke-width="0.9" fill="none"/>
<rect x="446.52" y="343.00" width="8.95" height="2.90" fill="#000"/>
<path d="M451.00,343.00 L451.00,341.30 M448.55,341.30 L453.45,341.30" stroke="#464646" stroke-width="0.9" fill="none"/>
<rect x="459.60" y="345.00" width="6.55" height="0.70" fill="#666"/>
<rect x="103.25" y="344.4" width="6.4" height="1.0" fill="#222"/>
<text transform="translate(60.23,352.30) scale(1.250,1)" font-size="5.20" font-weight="bold" text-anchor="middle" fill="#000" stroke="#000" stroke-width="0.12">40</text>
<text transform="translate(72.10,352.30) scale(1.250,1)" font-size="5.20" font-weight="bold" text-anchor="middle" fill="#000" stroke="#000" stroke-width="0.12">10</text>
<path d="M65.06,345.70 L65.06,352.70" stroke="#efefef" stroke-width="0.6"/>
<text transform="translate(83.97,352.30) scale(1.250,1)" font-size="5.20" font-weight="bold" text-anchor="middle" fill="#000" stroke="#000" stroke-width="0.12">4</text>
<path d="M76.94,345.70 L76.94,352.70" stroke="#efefef" stroke-width="0.6"/>
<text transform="translate(95.85,352.30) scale(1.250,1)" font-size="5.20" font-weight="bold" text-anchor="middle" fill="#000" stroke="#000" stroke-width="0.12">0.4</text>
<path d="M88.81,345.70 L88.81,352.70" stroke="#efefef" stroke-width="0.6"/>
<text transform="translate(107.72,352.30) scale(1.250,1)" font-size="5.20" font-weight="bold" text-anchor="middle" fill="#000" stroke="#000" stroke-width="0.12">0</text>
<path d="M100.69,345.70 L100.69,352.70" stroke="#efefef" stroke-width="0.6"/>
<text transform="translate(119.60,352.30) scale(1.250,1)" font-size="5.20" font-weight="bold" text-anchor="middle" fill="#000" stroke="#000" stroke-width="0.12">40</text>
<text transform="translate(131.47,352.30) scale(1.250,1)" font-size="5.20" font-weight="bold" text-anchor="middle" fill="#000" stroke="#000" stroke-width="0.12">10</text>
<path d="M124.44,345.70 L124.44,352.70" stroke="#efefef" stroke-width="0.6"/>
<text transform="translate(143.35,352.30) scale(1.250,1)" font-size="5.20" font-weight="bold" text-anchor="middle" fill="#000" stroke="#000" stroke-width="0.12">4</text>
<path d="M136.31,345.70 L136.31,352.70" stroke="#efefef" stroke-width="0.6"/>
<text transform="translate(155.22,352.30) scale(1.250,1)" font-size="5.20" font-weight="bold" text-anchor="middle" fill="#000" stroke="#000" stroke-width="0.12">0.4</text>
<path d="M148.19,345.70 L148.19,352.70" stroke="#efefef" stroke-width="0.6"/>
<text transform="translate(167.10,352.30) scale(1.250,1)" font-size="5.20" font-weight="bold" text-anchor="middle" fill="#000" stroke="#000" stroke-width="0.12">0</text>
<path d="M160.06,345.70 L160.06,352.70" stroke="#efefef" stroke-width="0.6"/>
<text transform="translate(178.97,352.30) scale(1.250,1)" font-size="5.20" font-weight="bold" text-anchor="middle" fill="#000" stroke="#000" stroke-width="0.12">40</text>
<text transform="translate(190.85,352.30) scale(1.250,1)" font-size="5.20" font-weight="bold" text-anchor="middle" fill="#000" stroke="#000" stroke-width="0.12">10</text>
<path d="M183.81,345.70 L183.81,352.70" stroke="#efefef" stroke-width="0.6"/>
<text transform="translate(202.72,352.30) scale(1.250,1)" font-size="5.20" font-weight="bold" text-anchor="middle" fill="#000" stroke="#000" stroke-width="0.12">4</text>
<path d="M195.69,345.70 L195.69,352.70" stroke="#efefef" stroke-width="0.6"/>
<text transform="translate(214.60,352.30) scale(1.250,1)" font-size="5.20" font-weight="bold" text-anchor="middle" fill="#000" stroke="#000" stroke-width="0.12">0.4</text>
<path d="M207.56,345.70 L207.56,352.70" stroke="#efefef" stroke-width="0.6"/>
<text transform="translate(226.47,352.30) scale(1.250,1)" font-size="5.20" font-weight="bold" text-anchor="middle" fill="#000" stroke="#000" stroke-width="0.12">0</text>
<path d="M219.44,345.70 L219.44,352.70" stroke="#efefef" stroke-width="0.6"/>
<text transform="translate(238.35,352.30) scale(1.250,1)" font-size="5.20" font-weight="bold" text-anchor="middle" fill="#000" stroke="#000" stroke-width="0.12">40</text>
<text transform="translate(250.22,352.30) scale(1.250,1)" font-size="5.20" font-weight="bold" text-anchor="middle" fill="#000" stroke="#000" stroke-width="0.12">10</text>
<path d="M243.19,345.70 L243.19,352.70" stroke="#efefef" stroke-width="0.6"/>
<text transform="translate(262.10,352.30) scale(1.250,1)" font-size="5.20" font-weight="bold" text-anchor="middle" fill="#000" stroke="#000" stroke-width="0.12">4</text>
<path d="M255.06,345.70 L255.06,352.70" stroke="#efefef" stroke-width="0.6"/>
<text transform="translate(273.98,352.30) scale(1.250,1)" font-size="5.20" font-weight="bold" text-anchor="middle" fill="#000" stroke="#000" stroke-width="0.12">0.4</text>
<path d="M266.94,345.70 L266.94,352.70" stroke="#efefef" stroke-width="0.6"/>
<text transform="translate(285.85,352.30) scale(1.250,1)" font-size="5.20" font-weight="bold" text-anchor="middle" fill="#000" stroke="#000" stroke-width="0.12">0</text>
<path d="M278.81,345.70 L278.81,352.70" stroke="#efefef" stroke-width="0.6"/>
<text transform="translate(297.73,352.30) scale(1.250,1)" font-size="5.20" font-weight="bold" text-anchor="middle" fill="#000" stroke="#000" stroke-width="0.12">40</text>
<text transform="translate(309.60,352.30) scale(1.250,1)" font-size="5.20" font-weight="bold" text-anchor="middle" fill="#000" stroke="#000" stroke-width="0.12">10</text>
<path d="M302.56,345.70 L302.56,352.70" stroke="#efefef" stroke-width="0.6"/>
<text transform="translate(321.48,352.30) scale(1.250,1)" font-size="5.20" font-weight="bold" text-anchor="middle" fill="#000" stroke="#000" stroke-width="0.12">4</text>
<path d="M314.44,345.70 L314.44,352.70" stroke="#efefef" stroke-width="0.6"/>
<text transform="translate(333.35,352.30) scale(1.250,1)" font-size="5.20" font-weight="bold" text-anchor="middle" fill="#000" stroke="#000" stroke-width="0.12">0.4</text>
<path d="M326.31,345.70 L326.31,352.70" stroke="#efefef" stroke-width="0.6"/>
<text transform="translate(345.23,352.30) scale(1.250,1)" font-size="5.20" font-weight="bold" text-anchor="middle" fill="#000" stroke="#000" stroke-width="0.12">0</text>
<path d="M338.19,345.70 L338.19,352.70" stroke="#efefef" stroke-width="0.6"/>
<text transform="translate(357.10,352.30) scale(1.250,1)" font-size="5.20" font-weight="bold" text-anchor="middle" fill="#000" stroke="#000" stroke-width="0.12">40</text>
<text transform="translate(368.98,352.30) scale(1.250,1)" font-size="5.20" font-weight="bold" text-anchor="middle" fill="#000" stroke="#000" stroke-width="0.12">10</text>
<path d="M361.94,345.70 L361.94,352.70" stroke="#efefef" stroke-width="0.6"/>
<text transform="translate(380.85,352.30) scale(1.250,1)" font-size="5.20" font-weight="bold" text-anchor="middle" fill="#000" stroke="#000" stroke-width="0.12">4</text>
<path d="M373.81,345.70 L373.81,352.70" stroke="#efefef" stroke-width="0.6"/>
<text transform="translate(392.73,352.30) scale(1.250,1)" font-size="5.20" font-weight="bold" text-anchor="middle" fill="#000" stroke="#000" stroke-width="0.12">0.4</text>
<path d="M385.69,345.70 L385.69,352.70" stroke="#efefef" stroke-width="0.6"/>
<text transform="translate(404.60,352.30) scale(1.250,1)" font-size="5.20" font-weight="bold" text-anchor="middle" fill="#000" stroke="#000" stroke-width="0.12">0</text>
<path d="M397.56,345.70 L397.56,352.70" stroke="#efefef" stroke-width="0.6"/>
<text transform="translate(416.48,352.30) scale(1.250,1)" font-size="5.20" font-weight="bold" text-anchor="middle" fill="#000" stroke="#000" stroke-width="0.12">40</text>
<text transform="translate(428.35,352.30) scale(1.250,1)" font-size="5.20" font-weight="bold" text-anchor="middle" fill="#000" stroke="#000" stroke-width="0.12">10</text>
<path d="M421.31,345.70 L421.31,352.70" stroke="#efefef" stroke-width="0.6"/>
<text transform="translate(440.23,352.30) scale(1.250,1)" font-size="5.20" font-weight="bold" text-anchor="middle" fill="#000" stroke="#000" stroke-width="0.12">4</text>
<path d="M433.19,345.70 L433.19,352.70" stroke="#efefef" stroke-width="0.6"/>
<text transform="translate(452.10,352.30) scale(1.250,1)" font-size="5.20" font-weight="bold" text-anchor="middle" fill="#000" stroke="#000" stroke-width="0.12">0.4</text>
<path d="M445.06,345.70 L445.06,352.70" stroke="#efefef" stroke-width="0.6"/>
<text transform="translate(463.98,352.30) scale(1.250,1)" font-size="5.20" font-weight="bold" text-anchor="middle" fill="#000" stroke="#000" stroke-width="0.12">0</text>
<path d="M456.94,345.70 L456.94,352.70" stroke="#efefef" stroke-width="0.6"/>
<path d="M52.99,345.70 L52.99,365.20" stroke="#dcdcdc" stroke-width="0.7"/>
<path d="M112.36,345.70 L112.36,365.20" stroke="#dcdcdc" stroke-width="0.7"/>
<path d="M171.74,345.70 L171.74,365.20" stroke="#dcdcdc" stroke-width="0.7"/>
<path d="M231.11,345.70 L231.11,365.20" stroke="#dcdcdc" stroke-width="0.7"/>
<path d="M290.49,345.70 L290.49,365.20" stroke="#dcdcdc" stroke-width="0.7"/>
<path d="M349.86,345.70 L349.86,365.20" stroke="#dcdcdc" stroke-width="0.7"/>
<path d="M409.24,345.70 L409.24,365.20" stroke="#dcdcdc" stroke-width="0.7"/>
<path d="M468.61,345.70 L468.61,365.20" stroke="#dcdcdc" stroke-width="0.7"/>
<text transform="translate(60.50,363.80) scale(1.340,1)" font-size="7.00" font-weight="bold" text-anchor="start" fill="#000" stroke="#000" stroke-width="0.12">Monocytes</text>
<text transform="translate(127.00,363.80) scale(1.340,1)" font-size="7.00" font-weight="bold" text-anchor="start" fill="#000" stroke="#000" stroke-width="0.12">CD137L</text>
<text transform="translate(184.00,363.80) scale(1.340,1)" font-size="7.00" font-weight="bold" text-anchor="start" fill="#000" stroke="#000" stroke-width="0.12">CD275</text>
<text transform="translate(238.30,363.80) scale(1.340,1)" font-size="7.00" font-weight="bold" text-anchor="start" fill="#000" stroke="#000" stroke-width="0.12">CD80/CD86</text>
<text transform="translate(301.70,363.80) scale(1.340,1)" font-size="7.00" font-weight="bold" text-anchor="start" fill="#000" stroke="#000" stroke-width="0.12">PcDNA3</text>
<text transform="translate(301.70,371.80) scale(1.340,1)" font-size="7.00" font-weight="bold" text-anchor="start" fill="#000" stroke="#000" stroke-width="0.12">Control</text>
<text transform="translate(352.50,360.50) scale(1.340,1)" font-size="7.00" font-weight="bold" text-anchor="start" fill="#000" stroke="#000" stroke-width="0.12">pcDNA3 and</text>
<text transform="translate(352.50,369.00) scale(1.340,1)" font-size="7.00" font-weight="bold" text-anchor="start" fill="#000" stroke="#000" stroke-width="0.12">PHR'CMV</text>
<text transform="translate(410.50,365.60) scale(1.310,1)" font-size="7.00" font-weight="bold" text-anchor="start" fill="#000" stroke="#000" stroke-width="0.12">Untransfected</text>
<path d="M118.30,250.91 L119.07,252.42 L121.25,252.49 L119.54,253.50 L120.13,255.06 L118.30,254.16 L116.47,255.06 L117.06,253.50 L115.35,252.49 L117.53,252.42 Z" fill="#000"/>
<rect x="115.65" y="257.05" width="5.30" height="3.90" fill="#000"/>
<path d="M115.60,264.90 L118.30,263.00 L121.00,264.90 L118.30,266.80 Z" fill="#000"/>
<path d="M115.50,273.00 L118.30,268.80 L121.10,273.00 Z" fill="#000"/>
<path d="M175.40,338.60 L178.20,334.20 L181.00,338.60 Z" fill="#000"/>
<path d="M234.40,303.00 L237.30,300.70 L240.20,303.00 L237.30,305.30 Z" fill="#000"/>
<rect x="294.00" y="329.40" width="5.60" height="3.60" fill="#000"/>
<path d="M415.20,320.90 L415.97,322.42 L418.15,322.49 L416.44,323.50 L417.03,325.06 L415.20,324.16 L413.37,325.06 L413.96,323.50 L412.25,322.49 L414.43,322.42 Z" fill="#000"/>
<path d="M57.00,392 L57.00,617" stroke="#dcdcdc" stroke-width="0.8"/>
<path d="M55.50,580.40 L471.5,580.40" stroke="#c4c4c4" stroke-width="0.7"/>
<text transform="translate(52.00,582.80) scale(1.200,1)" font-size="6.30" font-weight="normal" text-anchor="end" fill="#000" >0</text>
<path d="M55.50,580.40 L57.00,580.40" stroke="#e2e2e2" stroke-width="0.6"/>
<text transform="translate(53.00,551.48) scale(1.200,1)" font-size="6.30" font-weight="bold" text-anchor="end" fill="#000" stroke="#000" stroke-width="0.15">10000</text>
<path d="M55.50,549.08 L57.00,549.08" stroke="#e2e2e2" stroke-width="0.6"/>
<text transform="translate(53.00,520.16) scale(1.200,1)" font-size="6.30" font-weight="bold" text-anchor="end" fill="#000" stroke="#000" stroke-width="0.15">20000</text>
<path d="M55.50,517.76 L57.00,517.76" stroke="#e2e2e2" stroke-width="0.6"/>
<text transform="translate(53.00,488.84) scale(1.200,1)" font-size="6.30" font-weight="bold" text-anchor="end" fill="#000" stroke="#000" stroke-width="0.15">30000</text>
<path d="M55.50,486.44 L57.00,486.44" stroke="#e2e2e2" stroke-width="0.6"/>
<text transform="translate(53.00,457.52) scale(1.200,1)" font-size="6.30" font-weight="bold" text-anchor="end" fill="#000" stroke="#000" stroke-width="0.15">40000</text>
<path d="M55.50,455.12 L57.00,455.12" stroke="#e2e2e2" stroke-width="0.6"/>
<text transform="translate(53.00,426.20) scale(1.200,1)" font-size="6.30" font-weight="bold" text-anchor="end" fill="#000" stroke="#000" stroke-width="0.15">50000</text>
<path d="M55.50,423.80 L57.00,423.80" stroke="#e2e2e2" stroke-width="0.6"/>
<text transform="translate(53.00,394.88) scale(1.200,1)" font-size="6.30" font-weight="bold" text-anchor="end" fill="#000" stroke="#000" stroke-width="0.15">60000</text>
<path d="M55.50,392.48 L57.00,392.48" stroke="#e2e2e2" stroke-width="0.6"/>
<text transform="translate(24.80,483.20) rotate(-90) scale(0.760,1)" font-size="10.50" font-weight="bold" text-anchor="middle" fill="#000" letter-spacing="0.3" stroke="#000" stroke-width="0.25" stroke-linejoin="round">Number of antigen specific cells / well</text>
<rect x="58.45" y="431.80" width="8.85" height="148.80" fill="#000"/>
<path d="M62.88,431.80 L62.88,428.30 M60.48,428.30 L65.28,428.30" stroke="#464646" stroke-width="0.9" fill="none"/>
<rect x="70.29" y="460.00" width="8.85" height="120.60" fill="#000"/>
<path d="M74.72,460.00 L74.72,458.00 M72.31,458.00 L77.12,458.00" stroke="#464646" stroke-width="0.9" fill="none"/>
<rect x="82.13" y="498.30" width="8.85" height="82.30" fill="#000"/>
<path d="M86.55,498.30 L86.55,490.50 M84.15,490.50 L88.95,490.50" stroke="#464646" stroke-width="0.9" fill="none"/>
<rect x="93.97" y="506.80" width="8.85" height="73.80" fill="#000"/>
<path d="M98.39,506.80 L98.39,505.00 M95.99,505.00 L100.80,505.00" stroke="#464646" stroke-width="0.9" fill="none"/>
<rect x="107.01" y="579.80" width="6.45" height="0.60" fill="#666"/>
<rect x="117.65" y="540.80" width="8.85" height="39.80" fill="#000"/>
<path d="M122.08,540.80 L122.08,528.80 M119.67,528.80 L124.48,528.80" stroke="#464646" stroke-width="0.9" fill="none"/>
<rect x="129.49" y="511.80" width="8.85" height="68.80" fill="#000"/>
<path d="M133.92,511.80 L133.92,508.00 M131.52,508.00 L136.32,508.00" stroke="#464646" stroke-width="0.9" fill="none"/>
<rect x="141.33" y="540.80" width="8.85" height="39.80" fill="#000"/>
<path d="M145.75,540.80 L145.75,528.80 M143.35,528.80 L148.16,528.80" stroke="#464646" stroke-width="0.9" fill="none"/>
<rect x="153.17" y="556.80" width="8.85" height="23.80" fill="#000"/>
<path d="M157.60,556.80 L157.60,550.80 M155.20,550.80 L160.00,550.80" stroke="#464646" stroke-width="0.9" fill="none"/>
<rect x="166.21" y="579.80" width="6.45" height="0.60" fill="#666"/>
<rect x="176.85" y="579.20" width="8.85" height="1.40" fill="#000"/>
<rect x="188.69" y="579.20" width="8.85" height="1.40" fill="#000"/>
<rect x="200.53" y="579.80" width="8.85" height="0.80" fill="#000"/>
<rect x="212.37" y="579.20" width="8.85" height="1.40" fill="#000"/>
<rect x="225.41" y="579.80" width="6.45" height="0.60" fill="#666"/>
<rect x="236.05" y="577.50" width="8.85" height="3.10" fill="#000"/>
<rect x="247.89" y="577.00" width="8.85" height="3.60" fill="#000"/>
<path d="M252.31,577.00 L252.31,576.40 M249.91,576.40 L254.72,576.40" stroke="#464646" stroke-width="0.9" fill="none"/>
<rect x="259.73" y="578.80" width="8.85" height="1.80" fill="#000"/>
<rect x="271.57" y="579.30" width="8.85" height="1.30" fill="#000"/>
<rect x="284.61" y="579.80" width="6.45" height="0.60" fill="#666"/>
<rect x="295.25" y="570.00" width="8.85" height="10.60" fill="#000"/>
<rect x="307.09" y="571.30" width="8.85" height="9.30" fill="#000"/>
<path d="M311.51,571.30 L311.51,570.20 M309.12,570.20 L313.91,570.20" stroke="#464646" stroke-width="0.9" fill="none"/>
<rect x="318.93" y="576.30" width="8.85" height="4.30" fill="#000"/>
<path d="M323.36,576.30 L323.36,573.30 M320.96,573.30 L325.75,573.30" stroke="#464646" stroke-width="0.9" fill="none"/>
<rect x="330.77" y="579.30" width="8.85" height="1.30" fill="#000"/>
<rect x="343.81" y="579.80" width="6.45" height="0.60" fill="#666"/>
<rect x="354.45" y="578.00" width="8.85" height="2.60" fill="#000"/>
<rect x="366.29" y="575.80" width="8.85" height="4.80" fill="#000"/>
<path d="M370.71,575.80 L370.71,575.30 M368.31,575.30 L373.11,575.30" stroke="#464646" stroke-width="0.9" fill="none"/>
<rect x="378.13" y="579.00" width="8.85" height="1.60" fill="#000"/>
<rect x="389.97" y="578.50" width="8.85" height="2.10" fill="#000"/>
<rect x="403.01" y="579.80" width="6.45" height="0.60" fill="#666"/>
<rect x="413.65" y="567.50" width="8.85" height="13.10" fill="#000"/>
<rect x="425.49" y="569.50" width="8.85" height="11.10" fill="#000"/>
<path d="M429.92,569.50 L429.92,567.50 M427.52,567.50 L432.31,567.50" stroke="#464646" stroke-width="0.9" fill="none"/>
<rect x="437.33" y="574.50" width="8.85" height="6.10" fill="#000"/>
<path d="M441.75,574.50 L441.75,573.60 M439.36,573.60 L444.15,573.60" stroke="#464646" stroke-width="0.9" fill="none"/>
<rect x="449.17" y="577.80" width="8.85" height="2.80" fill="#000"/>
<rect x="462.21" y="579.80" width="6.45" height="0.60" fill="#666"/>
<rect x="165.51" y="578.9" width="7.4" height="1.1" fill="#222"/>
<text transform="translate(63.88,589.20) scale(1.250,1)" font-size="5.50" font-weight="bold" text-anchor="middle" fill="#000" stroke="#000" stroke-width="0.12">40</text>
<text transform="translate(75.72,589.20) scale(1.250,1)" font-size="5.50" font-weight="bold" text-anchor="middle" fill="#000" stroke="#000" stroke-width="0.12">10</text>
<text transform="translate(87.55,589.20) scale(1.250,1)" font-size="5.50" font-weight="bold" text-anchor="middle" fill="#000" stroke="#000" stroke-width="0.12">4</text>
<text transform="translate(99.39,589.20) scale(1.250,1)" font-size="5.50" font-weight="bold" text-anchor="middle" fill="#000" stroke="#000" stroke-width="0.12">0.4</text>
<text transform="translate(111.23,589.20) scale(1.250,1)" font-size="5.50" font-weight="bold" text-anchor="middle" fill="#000" stroke="#000" stroke-width="0.12">0</text>
<text transform="translate(123.08,589.20) scale(1.250,1)" font-size="5.50" font-weight="bold" text-anchor="middle" fill="#000" stroke="#000" stroke-width="0.12">40</text>
<text transform="translate(134.92,589.20) scale(1.250,1)" font-size="5.50" font-weight="bold" text-anchor="middle" fill="#000" stroke="#000" stroke-width="0.12">10</text>
<text transform="translate(146.75,589.20) scale(1.250,1)" font-size="5.50" font-weight="bold" text-anchor="middle" fill="#000" stroke="#000" stroke-width="0.12">4</text>
<text transform="translate(158.60,589.20) scale(1.250,1)" font-size="5.50" font-weight="bold" text-anchor="middle" fill="#000" stroke="#000" stroke-width="0.12">0.4</text>
<text transform="translate(170.44,589.20) scale(1.250,1)" font-size="5.50" font-weight="bold" text-anchor="middle" fill="#000" stroke="#000" stroke-width="0.12">0</text>
<text transform="translate(182.28,589.20) scale(1.250,1)" font-size="5.50" font-weight="bold" text-anchor="middle" fill="#000" stroke="#000" stroke-width="0.12">40</text>
<text transform="translate(194.12,589.20) scale(1.250,1)" font-size="5.50" font-weight="bold" text-anchor="middle" fill="#000" stroke="#000" stroke-width="0.12">10</text>
<text transform="translate(205.95,589.20) scale(1.250,1)" font-size="5.50" font-weight="bold" text-anchor="middle" fill="#000" stroke="#000" stroke-width="0.12">4</text>
<text transform="translate(217.80,589.20) scale(1.250,1)" font-size="5.50" font-weight="bold" text-anchor="middle" fill="#000" stroke="#000" stroke-width="0.12">0.4</text>
<text transform="translate(229.63,589.20) scale(1.250,1)" font-size="5.50" font-weight="bold" text-anchor="middle" fill="#000" stroke="#000" stroke-width="0.12">0</text>
<text transform="translate(241.48,589.20) scale(1.250,1)" font-size="5.50" font-weight="bold" text-anchor="middle" fill="#000" stroke="#000" stroke-width="0.12">40</text>
<text transform="translate(253.31,589.20) scale(1.250,1)" font-size="5.50" font-weight="bold" text-anchor="middle" fill="#000" stroke="#000" stroke-width="0.12">10</text>
<text transform="translate(265.16,589.20) scale(1.250,1)" font-size="5.50" font-weight="bold" text-anchor="middle" fill="#000" stroke="#000" stroke-width="0.12">4</text>
<text transform="translate(277.00,589.20) scale(1.250,1)" font-size="5.50" font-weight="bold" text-anchor="middle" fill="#000" stroke="#000" stroke-width="0.12">0.4</text>
<text transform="translate(288.84,589.20) scale(1.250,1)" font-size="5.50" font-weight="bold" text-anchor="middle" fill="#000" stroke="#000" stroke-width="0.12">0</text>
<text transform="translate(300.68,589.20) scale(1.250,1)" font-size="5.50" font-weight="bold" text-anchor="middle" fill="#000" stroke="#000" stroke-width="0.12">40</text>
<text transform="translate(312.51,589.20) scale(1.250,1)" font-size="5.50" font-weight="bold" text-anchor="middle" fill="#000" stroke="#000" stroke-width="0.12">10</text>
<text transform="translate(324.36,589.20) scale(1.250,1)" font-size="5.50" font-weight="bold" text-anchor="middle" fill="#000" stroke="#000" stroke-width="0.12">4</text>
<text transform="translate(336.19,589.20) scale(1.250,1)" font-size="5.50" font-weight="bold" text-anchor="middle" fill="#000" stroke="#000" stroke-width="0.12">0.4</text>
<text transform="translate(348.03,589.20) scale(1.250,1)" font-size="5.50" font-weight="bold" text-anchor="middle" fill="#000" stroke="#000" stroke-width="0.12">0</text>
<text transform="translate(359.88,589.20) scale(1.250,1)" font-size="5.50" font-weight="bold" text-anchor="middle" fill="#000" stroke="#000" stroke-width="0.12">40</text>
<text transform="translate(371.71,589.20) scale(1.250,1)" font-size="5.50" font-weight="bold" text-anchor="middle" fill="#000" stroke="#000" stroke-width="0.12">10</text>
<text transform="translate(383.56,589.20) scale(1.250,1)" font-size="5.50" font-weight="bold" text-anchor="middle" fill="#000" stroke="#000" stroke-width="0.12">4</text>
<text transform="translate(395.39,589.20) scale(1.250,1)" font-size="5.50" font-weight="bold" text-anchor="middle" fill="#000" stroke="#000" stroke-width="0.12">0.4</text>
<text transform="translate(407.24,589.20) scale(1.250,1)" font-size="5.50" font-weight="bold" text-anchor="middle" fill="#000" stroke="#000" stroke-width="0.12">0</text>
<text transform="translate(419.07,589.20) scale(1.250,1)" font-size="5.50" font-weight="bold" text-anchor="middle" fill="#000" stroke="#000" stroke-width="0.12">40</text>
<text transform="translate(430.92,589.20) scale(1.250,1)" font-size="5.50" font-weight="bold" text-anchor="middle" fill="#000" stroke="#000" stroke-width="0.12">10</text>
<text transform="translate(442.75,589.20) scale(1.250,1)" font-size="5.50" font-weight="bold" text-anchor="middle" fill="#000" stroke="#000" stroke-width="0.12">4</text>
<text transform="translate(454.59,589.20) scale(1.250,1)" font-size="5.50" font-weight="bold" text-anchor="middle" fill="#000" stroke="#000" stroke-width="0.12">0.4</text>
<text transform="translate(466.44,589.20) scale(1.250,1)" font-size="5.50" font-weight="bold" text-anchor="middle" fill="#000" stroke="#000" stroke-width="0.12">0</text>
<path d="M115.86,580.40 L115.86,617" stroke="#d2d2d2" stroke-width="0.7"/>
<path d="M175.06,580.40 L175.06,617" stroke="#d2d2d2" stroke-width="0.7"/>
<path d="M234.25,580.40 L234.25,617" stroke="#d2d2d2" stroke-width="0.7"/>
<path d="M293.45,580.40 L293.45,617" stroke="#d2d2d2" stroke-width="0.7"/>
<path d="M352.65,580.40 L352.65,617" stroke="#d2d2d2" stroke-width="0.7"/>
<path d="M411.86,580.40 L411.86,617" stroke="#d2d2d2" stroke-width="0.7"/>
<path d="M471.06,580.40 L471.06,617" stroke="#d2d2d2" stroke-width="0.7"/>
<text transform="translate(60.00,604.00) scale(1.090,1)" font-size="7.70" font-weight="bold" text-anchor="start" fill="#000" >Monocytes</text>
<text transform="translate(129.00,604.80) scale(1.140,1)" font-size="7.70" font-weight="bold" text-anchor="start" fill="#000" >CD137L</text>
<text transform="translate(195.50,604.80) scale(1.140,1)" font-size="7.70" font-weight="bold" text-anchor="start" fill="#000" >CD275</text>
<text transform="translate(233.80,605.20) scale(1.130,1)" font-size="7.50" font-weight="bold" text-anchor="start" fill="#000" >CD80 / CD86</text>
<text transform="translate(310.50,605.20) scale(1.130,1)" font-size="7.50" font-weight="bold" text-anchor="start" fill="#000" >PcDNA3</text>
<text transform="translate(310.50,613.30) scale(1.130,1)" font-size="7.50" font-weight="bold" text-anchor="start" fill="#000" >Control</text>
<text transform="translate(356.30,604.00) scale(1.130,1)" font-size="7.50" font-weight="bold" text-anchor="start" fill="#000" >pcDNA3 and</text>
<text transform="translate(362.00,612.90) scale(1.100,1)" font-size="6.90" font-weight="bold" text-anchor="start" fill="#000" stroke="#000" stroke-width="0.1">PHR'CMV</text>
<text transform="translate(415.00,608.60) scale(1.130,1)" font-size="7.50" font-weight="bold" text-anchor="start" fill="#000" >Untransfected</text>
<path d="M119.80,502.39 L120.54,503.85 L122.64,503.92 L120.99,504.89 L121.56,506.39 L119.80,505.53 L118.04,506.39 L118.61,504.89 L116.96,503.92 L119.06,503.85 Z" fill="#000"/>
<rect x="117.10" y="509.05" width="5.40" height="4.10" fill="#000"/>
<path d="M117.05,518.00 L119.80,515.95 L122.55,518.00 L119.80,520.05 Z" fill="#000"/>
<path d="M117.05,526.70 L119.80,522.30 L122.55,526.70 Z" fill="#000"/>
<path d="M177.10,579.50 L179.50,575.70 L181.90,579.50 Z" fill="#000"/>
<path d="M237.90,575.00 L240.50,573.00 L243.10,575.00 L240.50,577.00 Z" fill="#000"/>
<rect x="296.30" y="565.00" width="5.00" height="3.80" fill="#000"/>
<path d="M416.30,563.04 L416.95,564.34 L418.82,564.40 L417.36,565.25 L417.85,566.58 L416.30,565.82 L414.75,566.58 L415.24,565.25 L413.78,564.40 L415.65,564.34 Z" fill="#000"/>
</svg>
</body></html>
